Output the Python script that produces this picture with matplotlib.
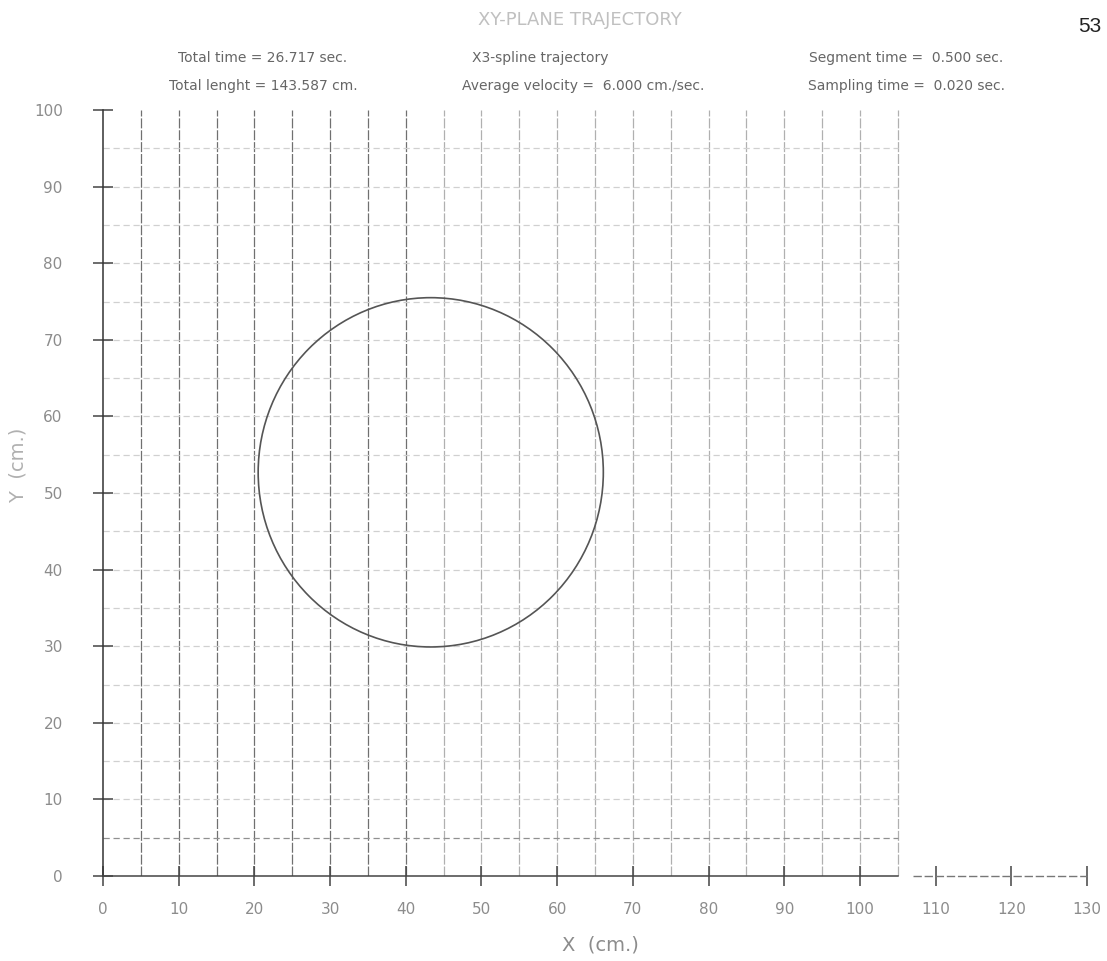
import matplotlib
matplotlib.use("Agg")
import matplotlib.pyplot as plt
from matplotlib.patches import Circle
import numpy as np

# Axis ticks / grid
x_ticks = [0, 10, 20, 30, 40, 50, 60, 70, 80, 90, 100, 110, 120, 130]
y_ticks = [0, 10, 20, 30, 40, 50, 60, 70, 80, 90, 100]
grid_x = [5, 10, 15, 20, 25, 30, 35, 40, 45, 50, 55, 60, 65, 70, 75, 80, 85, 90, 95, 100, 105]
grid_y = [5, 10, 15, 20, 25, 30, 35, 40, 45, 50, 55, 60, 65, 70, 75, 80, 85, 90, 95]

# Trajectory (circle)
circle_center = (43.3, 52.7)
circle_radius = 22.8

# Header text
title = "XY-PLANE TRAJECTORY"
header_left = ["Total time = 26.717 sec.", "Total lenght = 143.587 cm."]
header_mid = ["X3-spline trajectory", "Average velocity =  6.000 cm./sec."]
header_right = ["Segment time =  0.500 sec.", "Sampling time =  0.020 sec."]

fig = plt.figure(figsize=(11.07, 9.61), dpi=100)
ax = fig.add_axes([103 / 1107, 1 - 876 / 961, (1087 - 103) / 1107, (876 - 110) / 961])
ax.set_xlim(0, 130)
ax.set_ylim(0, 100)
for s in ax.spines.values():
    s.set_visible(False)

# grid lines
for gx in grid_x:
    col = "#707070" if gx <= 40 else "#b0b0b0"
    ax.plot([gx, gx], [0, 100], color=col, lw=0.9, ls=(0, (8, 1.5)), zorder=1)
for gy in grid_y:
    col = "#909090" if gy == 5 else "#d0d0d0"
    ax.plot([0, 105], [gy, gy], color=col, lw=0.9, ls=(0, (5, 3)), zorder=1)

# axis lines
ax.plot([0, 0], [0, 100], color="#333333", lw=1.1, clip_on=False, zorder=3)
ax.plot([0, 105], [0, 0], color="#444444", lw=1.1, clip_on=False, zorder=3)
ax.plot([107, 130], [0, 0], color="#777777", lw=1.0, ls=(0, (6, 2)), clip_on=False, zorder=3)

# trajectory
ax.add_patch(Circle(circle_center, circle_radius, fill=False, ec="#555555", lw=1.2, zorder=4))

ax.set_xticks(x_ticks)
ax.set_yticks(y_ticks)
ax.tick_params(axis="both", direction="inout", length=14, width=1.1, color="#444444",
               labelcolor="#8c8c8c", labelsize=11)
ax.tick_params(axis="y", pad=22)
ax.tick_params(axis="x", pad=12)
ax.set_xlabel("X  (cm.)", fontsize=14, color="#8c8c8c", va="center")
ax.xaxis.set_label_coords((600 - 103) / 984, -(945 - 876) / 766)
ax.set_ylabel("Y  (cm.)", fontsize=14, color="#b0b0b0", va="center")
ax.yaxis.set_label_coords(-(103 - 18) / 984, (876 - 465) / 766)

# header
fig.text(580 / 1107, 1 - 20 / 961, title, ha="center", va="center", fontsize=13, color="#c0c0c0")
fig.text(1090 / 1107, 1 - 26 / 961, "53", ha="center", va="center", fontsize=15,
         family="Liberation Sans", color="#222222")
for i, y in enumerate([58, 86]):
    fig.text(263 / 1107, 1 - y / 961, header_left[i], ha="center", va="center", fontsize=10, color="#666666")
    fig.text((540 if i == 0 else 583) / 1107, 1 - y / 961, header_mid[i], ha="center", va="center",
             fontsize=10, color="#666666")
    fig.text(906 / 1107, 1 - y / 961, header_right[i], ha="center", va="center", fontsize=10, color="#666666")

fig.savefig("out.png", dpi=100)
